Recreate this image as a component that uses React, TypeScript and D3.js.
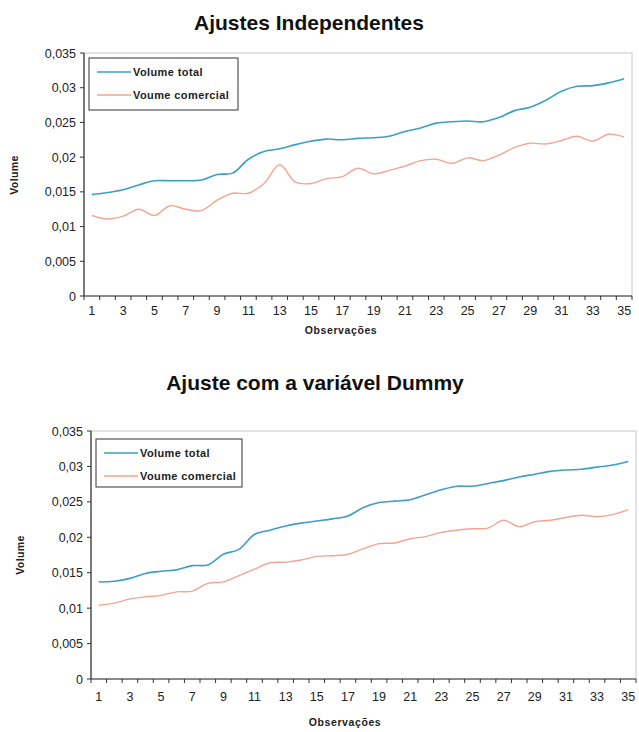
import React from "react";
import * as d3 from "d3";

const categories: number[] = Array.from({ length: 35 }, (_, i) => i + 1);
const yTicks: number[] = [0, 0.005, 0.01, 0.015, 0.02, 0.025, 0.03, 0.035];
const seriesNames: string[] = ["Volume total", "Voume comercial"];

const topTotal: number[] = [
  0.0146, 0.0149, 0.0153, 0.016, 0.0166, 0.0166, 0.0166, 0.0167, 0.0175, 0.0177,
  0.0197, 0.0208, 0.0212, 0.0218, 0.0223, 0.0226, 0.0225, 0.0227, 0.0228, 0.023,
  0.0237, 0.0242, 0.0249, 0.0251, 0.0252, 0.0251, 0.0257, 0.0267, 0.0272, 0.0282,
  0.0295, 0.0302, 0.0303, 0.0307, 0.0313,
];
const topComercial: number[] = [
  0.0116, 0.0111, 0.0115, 0.0125, 0.0116, 0.013, 0.0125, 0.0123, 0.0138, 0.0148,
  0.0148, 0.0162, 0.0189, 0.0164, 0.0162, 0.0169, 0.0172, 0.0184, 0.0176, 0.0181,
  0.0187, 0.0195, 0.0197, 0.0191, 0.0199, 0.0195, 0.0203, 0.0214, 0.022, 0.0219,
  0.0224, 0.023, 0.0223, 0.0233, 0.0229,
];
const botTotal: number[] = [
  0.0137, 0.0138, 0.0142, 0.0149, 0.0152, 0.0154, 0.016, 0.0161, 0.0176, 0.0183,
  0.0204, 0.021, 0.0216, 0.022, 0.0223, 0.0226, 0.023, 0.0242, 0.0249, 0.0251,
  0.0253, 0.026, 0.0267, 0.0272, 0.0272, 0.0276, 0.028, 0.0285, 0.0289, 0.0293,
  0.0295, 0.0296, 0.0299, 0.0302, 0.0307,
];
const botComercial: number[] = [
  0.0104, 0.0107, 0.0113, 0.0116, 0.0118, 0.0123, 0.0124, 0.0135, 0.0137, 0.0146,
  0.0155, 0.0164, 0.0165, 0.0168, 0.0173, 0.0174, 0.0176, 0.0184, 0.0191, 0.0192,
  0.0198, 0.0201, 0.0207, 0.021, 0.0212, 0.0213, 0.0224, 0.0215, 0.0222, 0.0224,
  0.0228, 0.0231, 0.0229, 0.0232, 0.0239,
];

const BLUE = "#3c9fc6";
const RED = "#f3a593";
const FONT = "'Liberation Sans', Arial, sans-serif";

type ChartProps = {
  x0: number; x1: number; y0: number; y1: number;
  title: string; titleX: number; titleY: number;
  total: number[]; comercial: number[];
  lg: { x: number; y: number; w: number; h: number };
  volX: number; volY: number; obsX: number; obsY: number; tickDy: number;
};

function Chart(p: ChartProps) {
  const xs = d3.scaleBand<number>().domain(categories).range([p.x0, p.x1]).padding(0);
  const bw = xs.bandwidth();
  const cx = (c: number) => (xs(c) as number) + bw / 2;
  const ys = d3.scaleLinear().domain([0, 0.035]).range([p.y1, p.y0]);
  const line = d3
    .line<number>()
    .x((_, i) => cx(categories[i]))
    .y((d) => ys(d))
    .curve(d3.curveCatmullRom.alpha(0.5));
  const fmt = (v: number) => (v === 0 ? "0" : String(v).replace(".", ","));
  const boundaries = d3.range(categories.length + 1).map((i) => p.x0 + i * bw);
  return (
    <g>
      <text x={p.titleX} y={p.titleY} textAnchor="middle" fontFamily={FONT} fontWeight="bold" fontSize={21} fill="#111">
        {p.title}
      </text>
      <rect x={p.x0} y={p.y0} width={p.x1 - p.x0} height={p.y1 - p.y0} fill="none" stroke="#c8c8c8" strokeWidth={1} />
      <line x1={p.x0} x2={p.x0} y1={p.y0} y2={p.y1} stroke="#333" strokeWidth={1.2} />
      <line x1={p.x0} x2={p.x1} y1={p.y1} y2={p.y1} stroke="#333" strokeWidth={1.2} />
      {yTicks.map((t) => (
        <g key={"y" + t}>
          <line x1={p.x0 - 4} x2={p.x0} y1={ys(t)} y2={ys(t)} stroke="#333" />
          <text x={p.x0 - 8} y={ys(t) + 4.5} textAnchor="end" fontFamily={FONT} fontSize={12.5} fill="#222">
            {fmt(t)}
          </text>
        </g>
      ))}
      {boundaries.map((bx, i) => (
        <line key={"xt" + i} x1={bx} x2={bx} y1={p.y1} y2={p.y1 + 4} stroke="#333" />
      ))}
      {categories.filter((c) => c % 2 === 1).map((c) => (
        <text key={"xl" + c} x={cx(c)} y={p.y1 + p.tickDy} textAnchor="middle" fontFamily={FONT} fontSize={12.5} fill="#222">
          {c}
        </text>
      ))}
      <path d={line(p.total) || ""} fill="none" stroke={BLUE} strokeWidth={1.6} />
      <path d={line(p.comercial) || ""} fill="none" stroke={RED} strokeWidth={1.4} />
      <rect x={p.lg.x} y={p.lg.y} width={p.lg.w} height={p.lg.h} fill="#fff" stroke="#333" strokeWidth={1} />
      {seriesNames.map((n, i) => {
        const ly = p.lg.y + 14 + i * 23;
        return (
          <g key={n}>
            <line x1={p.lg.x + 8} x2={p.lg.x + 42} y1={ly} y2={ly} stroke={i === 0 ? BLUE : RED} strokeWidth={1.5} />
            <text x={p.lg.x + 44} y={ly + 4} fontFamily={FONT} fontWeight="bold" fontSize={11} letterSpacing={0.4} fill="#222">
              {n}
            </text>
          </g>
        );
      })}
      <text x={p.obsX} y={p.obsY} textAnchor="middle" fontFamily={FONT} fontWeight="bold" fontSize={10.5} letterSpacing={0.6} fill="#222">
        Observações
      </text>
      <text
        transform={`translate(${p.volX},${p.volY}) rotate(-90)`}
        textAnchor="middle"
        fontFamily={FONT}
        fontWeight="bold"
        fontSize={10.5}
        letterSpacing={0.4}
        fill="#222"
      >
        Volume
      </text>
    </g>
  );
}

export default function App() {
  return (
    <svg
      width={639}
      height={732}
      style={{ position: "absolute", left: 0, top: 0, background: "#fff" }}
    >
      <rect width={639} height={732} fill="#fff" />
      <Chart
        x0={84} x1={632} y0={53} y1={296}
        title="Ajustes Independentes" titleX={309} titleY={30}
        total={topTotal} comercial={topComercial}
        lg={{ x: 89, y: 58, w: 149, h: 52 }}
        volX={18} volY={175} obsX={341} obsY={334} tickDy={19}
      />
      <Chart
        x0={91} x1={636} y0={431} y1={679}
        title="Ajuste com a variável Dummy" titleX={315} titleY={390}
        total={botTotal} comercial={botComercial}
        lg={{ x: 96, y: 439, w: 146, h: 48 }}
        volX={24} volY={555} obsX={345} obsY={726} tickDy={22}
      />
    </svg>
  );
}
